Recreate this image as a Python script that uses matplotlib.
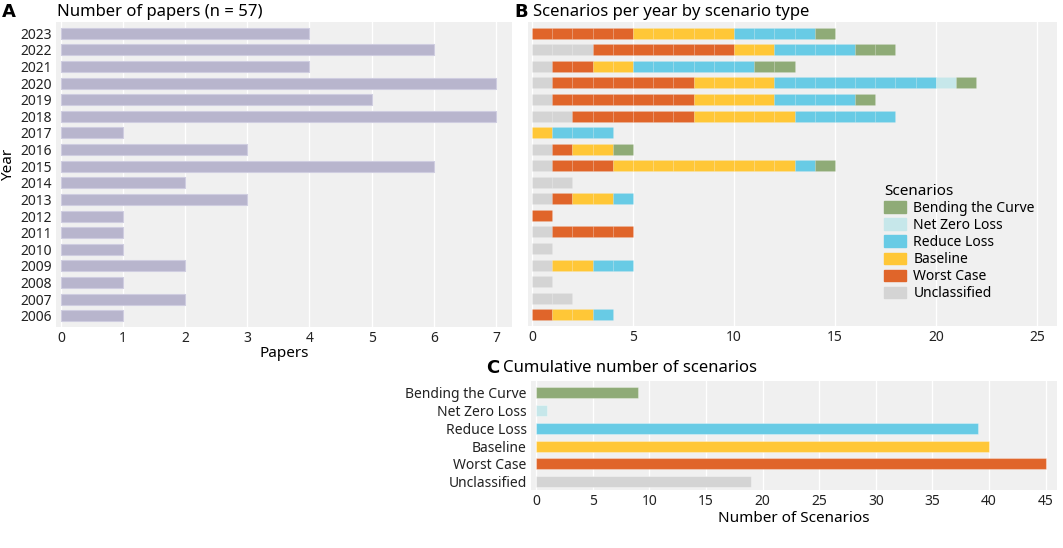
import numpy as np
import matplotlib.pyplot as plt

plt.rcParams['font.family'] = ['Noto Sans', 'DejaVu Sans']

years = [2023, 2022, 2021, 2020, 2019, 2018, 2017, 2016, 2015,
         2014, 2013, 2012, 2011, 2010, 2009, 2008, 2007, 2006]
papers = [4, 6, 4, 7, 5, 7, 1, 3, 6, 2, 3, 1, 1, 1, 2, 1, 2, 1]

# scenario counts per year (same order as years), stacked left to right
unclassified = [0, 3, 1, 1, 1, 2, 0, 1, 1, 2, 1, 0, 1, 1, 1, 1, 2, 0]
worst_case   = [5, 7, 2, 7, 7, 6, 0, 1, 3, 0, 1, 1, 4, 0, 0, 0, 0, 1]
baseline     = [5, 2, 2, 4, 4, 5, 1, 2, 9, 0, 2, 0, 0, 0, 2, 0, 0, 2]
reduce_loss  = [4, 4, 6, 8, 4, 5, 3, 0, 1, 0, 1, 0, 0, 0, 2, 0, 0, 1]
net_zero     = [0, 0, 0, 1, 0, 0, 0, 0, 0, 0, 0, 0, 0, 0, 0, 0, 0, 0]
bending      = [1, 2, 2, 1, 1, 0, 0, 1, 1, 0, 0, 0, 0, 0, 0, 0, 0, 0]

scen_names = ['Unclassified', 'Worst Case', 'Baseline', 'Reduce Loss',
              'Net Zero Loss', 'Bending the Curve']
scen_colors = ['#d4d4d4', '#e0652a', '#ffc737', '#68cbe5', '#c6e7ea', '#8fab77']
scen_data = [unclassified, worst_case, baseline, reduce_loss, net_zero, bending]

BG = '#f0f0f0'
W, H = 1063, 548
fig = plt.figure(figsize=(W / 100, H / 100), dpi=100)


def px_axes(l, t, r, b):
    return fig.add_axes([l / W, 1 - b / H, (r - l) / W, (b - t) / H])


def style(ax):
    ax.set_facecolor(BG)
    for s in ax.spines.values():
        s.set_visible(False)
    ax.grid(axis='x', color='white', lw=1.0)
    ax.set_axisbelow(True)
    ax.tick_params(length=0, labelsize=10, pad=3, colors='#222222')


def panel_letter(x, y, s):
    fig.text(x / W, 1 - y / H, s, fontsize=13, fontweight='bold',
             family='DejaVu Sans', va='center')


ypos = np.arange(len(years))

# --- A
axA = px_axes(56, 22, 512, 327)
style(axA)
axA.barh(ypos, papers, height=0.66, color='#b8b5cd', edgecolor='#cfcde0', lw=0.8)
axA.set_yticks(ypos)
axA.set_yticklabels([str(y) for y in years])
axA.set_ylim(len(years) - 0.32, -0.68)
axA.set_xlim(-0.08, 7.26)
axA.set_xticks(range(8))
axA.set_xlabel('Papers', fontsize=11, labelpad=0)
fig.text(9 / W, 1 - 165 / H, 'Year', rotation=90, fontsize=11, va='center', ha='center')
panel_letter(2, 12, 'A')
fig.text(57 / W, 1 - 12 / H, 'Number of papers (n = 57)', fontsize=12, va='center')

# --- B
axB = px_axes(528, 22, 1057, 326)
style(axB)
left = np.zeros(len(years))
for name, col, vals in zip(scen_names, scen_colors, scen_data):
    for i, v in enumerate(vals):
        for k in range(v):
            axB.barh(ypos[i], 1, left=left[i] + k, height=0.66, color=col,
                     edgecolor=(1, 1, 1, 0.12), lw=0.5)
    left += np.array(vals)
axB.set_yticks([])
axB.set_ylim(len(years) - 0.32, -0.68)
axB.set_xlim(-0.2, 26)
axB.set_xticks([0, 5, 10, 15, 20, 25])
handles = [plt.Rectangle((0, 0), 1, 1, color=c) for c in scen_colors][::-1]
leg = axB.legend(handles, scen_names[::-1], title='Scenarios', loc='upper left',
                 bbox_to_anchor=(0.655, 0.5), frameon=False, fontsize=10,
                 title_fontsize=11, handlelength=1.6, handleheight=0.9,
                 labelspacing=0.15, handletextpad=0.5, borderpad=0.2)
leg._legend_box.align = 'left'
panel_letter(514, 12, 'B')
fig.text(533 / W, 1 - 12 / H, 'Scenarios per year by scenario type', fontsize=12, va='center')

# --- C
totals = [sum(v) for v in scen_data]
axC = px_axes(531, 381, 1057, 490)
style(axC)
cpos = np.arange(len(scen_names))
axC.barh(cpos, totals, height=0.62, color=scen_colors,
         edgecolor=[(1, 1, 1, 0.3)] * len(scen_colors), lw=0.8)
axC.set_yticks(cpos)
axC.set_yticklabels(scen_names)
axC.set_ylim(-0.47, len(scen_names) - 0.33)
axC.set_xlim(-0.45, 46)
axC.set_xticks(range(0, 50, 5))
axC.set_xlabel('Number of Scenarios', fontsize=11, labelpad=1)
panel_letter(486, 368, 'C')
fig.text(503 / W, 1 - 368 / H, 'Cumulative number of scenarios', fontsize=12, va='center')

fig.savefig('out.png', dpi=100, facecolor='white')
